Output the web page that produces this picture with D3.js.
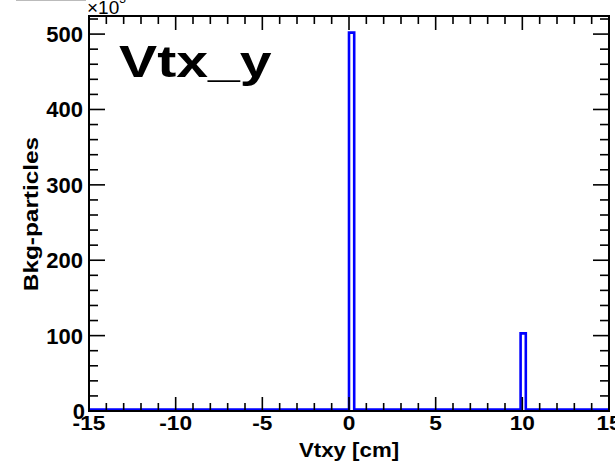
<!DOCTYPE html>
<html lang="en">
<head>
  <meta charset="UTF-8">
  <title>Vtx_y</title>
  <script src="https://cdnjs.cloudflare.com/ajax/libs/d3/7.8.5/d3.min.js"></script>
  <style>
    html, body { margin: 0; padding: 0; background: #fff; }
    #chart { width: 615px; height: 468px; }
    text { font-family: "Liberation Sans", Arial, sans-serif; fill: #000; }
  </style>
</head>
<body>
  <div id="chart"></div>
  <script>
    // histogram: 100 bins of 0.3 cm over [-15, 15], only two bins are filled (units of 10^3)
    const xRange = [-15, 15];
    const binWidth = 0.3;
    const binLow = [0, 9.9];
    const binCount = [500, 101];

    const xTicks = [-15, -10, -5, 0, 5, 10, 15];
    const yTicks = [0, 100, 200, 300, 400, 500];

    const width = 615, height = 468;
    const frame = { left: 89, right: 609, top: 16, bottom: 411 };

    const svg = d3.select("#chart").append("svg")
      .attr("width", width)
      .attr("height", height);

    const x = d3.scaleLinear().domain(xRange).range([frame.left, frame.right]);
    const y = d3.scaleLinear().domain([0, 524]).range([frame.bottom, frame.top]);

    // step outline of the histogram
    const pts = [[xRange[0], 0]];
    binLow.forEach((lo, i) => {
      pts.push([lo, 0], [lo, binCount[i]], [lo + binWidth, binCount[i]], [lo + binWidth, 0]);
    });
    pts.push([xRange[1], 0]);

    svg.append("path")
      .datum(pts)
      .attr("d", d3.line().x(d => x(d[0])).y(d => y(d[1])))
      .attr("transform", "translate(0,-1.5)")
      .attr("fill", "none")
      .attr("stroke", "#0000ff")
      .attr("stroke-width", 2.6);

    // ticks on all four sides, pointing inside
    const xMinor = d3.range(-15, 15.01, 1);
    const yMinor = d3.range(0, 521, 20);

    const tickG = svg.append("g").attr("stroke", "#000").attr("stroke-width", 1.6);
    xMinor.forEach(v => {
      const len = v % 5 === 0 ? 14 : 8;
      tickG.append("line").attr("x1", x(v)).attr("x2", x(v)).attr("y1", frame.bottom).attr("y2", frame.bottom - len);
      tickG.append("line").attr("x1", x(v)).attr("x2", x(v)).attr("y1", frame.top).attr("y2", frame.top + len);
    });
    yMinor.forEach(v => {
      const len = v % 100 === 0 ? 16 : 9;
      tickG.append("line").attr("y1", y(v)).attr("y2", y(v)).attr("x1", frame.left).attr("x2", frame.left + len);
      tickG.append("line").attr("y1", y(v)).attr("y2", y(v)).attr("x1", frame.right).attr("x2", frame.right - len);
    });

    // frame
    svg.append("rect")
      .attr("x", frame.left).attr("y", frame.top)
      .attr("width", frame.right - frame.left)
      .attr("height", frame.bottom - frame.top)
      .attr("fill", "none")
      .attr("stroke", "#000")
      .attr("stroke-width", 2);

    // tick labels
    svg.append("g").selectAll("text").data(xTicks).join("text")
      .attr("transform", d => `translate(${x(d)},430) scale(1.08,1)`)
      .attr("text-anchor", "middle")
      .attr("font-size", 21)
      .attr("font-weight", "bold")
      .text(d => d);

    svg.append("g").selectAll("text").data(yTicks).join("text")
      .attr("x", d => d === 0 ? 85 : 83)
      .attr("y", d => y(d) + 8)
      .attr("text-anchor", "end")
      .attr("font-size", 22)
      .attr("font-weight", "bold")
      .text(d => d);

    // axis titles
    svg.append("text")
      .attr("transform", "translate(349,457) scale(1.06,1)")
      .attr("text-anchor", "middle")
      .attr("font-size", 21)
      .attr("font-weight", "bold")
      .text("Vtxy [cm]");

    svg.append("text")
      .attr("transform", "translate(38,214) rotate(-90) scale(1.16,1)")
      .attr("text-anchor", "middle")
      .attr("font-size", 21)
      .attr("font-weight", "bold")
      .text("Bkg-particles");

    // exponent label
    const expo = svg.append("text").attr("x", 87).attr("y", 14).attr("font-size", 19);
    expo.append("tspan").text("\u00d710");
    expo.append("tspan").attr("dy", -11).attr("font-size", 12).text("3");

    svg.append("line")
      .attr("x1", 16).attr("x2", 86).attr("y1", 0.5).attr("y2", 0.5)
      .attr("stroke", "#bbb").attr("stroke-width", 1);

    // histogram name
    svg.append("text")
      .attr("transform", "translate(119,77) scale(1.3,1)")
      .attr("font-size", 44)
      .attr("font-weight", "bold")
      .text("Vtx_y");
  </script>
</body>
</html>
